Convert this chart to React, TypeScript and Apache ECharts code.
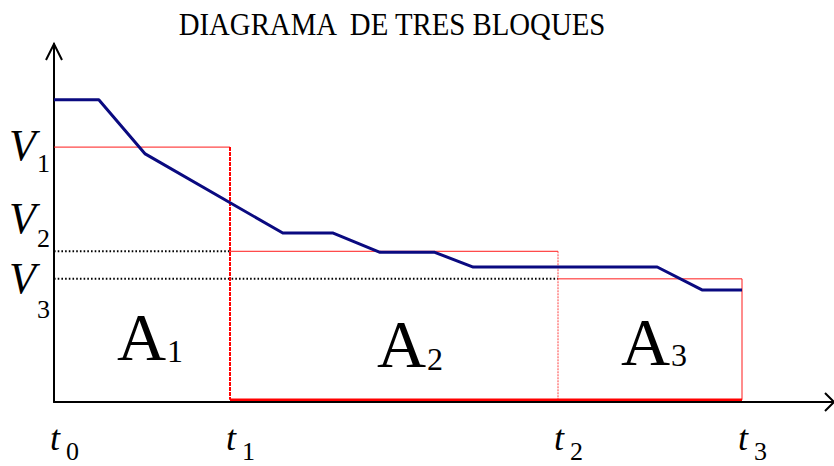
import React, { useEffect, useRef } from "react";
import * as echarts from "echarts";

// Time marks t0..t3 on the horizontal axis
const tickTimes = [0, 22, 63, 86];
const tickNames = ["0", "1", "2", "3"];
// Block heights V1..V3
const blockHeights = [71.2, 42.1, 34.4];
const blockNames = ["1", "2", "3"];
// Measured curve (time, value)
const curveTimes = [0, 5.6, 11.4, 28.6, 34.9, 40.75, 47.6, 52.4, 75.4, 81, 86];
const curveValues = [84.4, 84.4, 69.3, 47.2, 47.2, 41.8, 41.8, 37.7, 37.7, 31.3, 31.3];
// Floor line of the red blocks, just above the axis
const blockBase = 0.6;

const X_MAX = 97.5;
const Y_MAX = 100;
const SERIF = '"Liberation Serif", "Times New Roman", serif';
const RED = "#ff1a1a";

// vertical centre for a text whose alphabetic baseline must sit at `b`
const mid = (b: number, size: number) => b - 0.3375 * size;

export default function App() {
  const ref = useRef<HTMLDivElement>(null);

  useEffect(() => {
    const chart = echarts.init(ref.current!, null, { renderer: "svg" });

    const base = {
      type: "line" as const,
      symbol: "none",
      silent: true,
      animation: false,
    };

    const series: any[] = [];

    // block tops
    blockHeights.forEach((v, i) => {
      series.push({
        ...base,
        z: 2,
        data: [
          [tickTimes[i], v],
          [tickTimes[i + 1], v],
        ],
        lineStyle: { color: RED, width: 1 },
      });
    });

    // block right edges
    const edgeWidths = [2, 1, 1];
    const edgeTypes: any[] = [[4, 1], [2, 1], "solid"];
    const edgeColors = ["#ff0000", "#ff4040", RED];
    blockHeights.forEach((v, i) => {
      series.push({
        ...base,
        z: 2,
        data: [
          [tickTimes[i + 1], v],
          [tickTimes[i + 1], blockBase],
        ],
        lineStyle: { color: edgeColors[i], width: edgeWidths[i], type: edgeTypes[i] },
      });
    });

    // floor of blocks 2 and 3
    series.push({
      ...base,
      z: 2,
      data: [
        [tickTimes[1], blockBase],
        [tickTimes[3], blockBase],
      ],
      lineStyle: { color: "#ff0000", width: 2.5 },
    });

    // dotted guides for V2 and V3
    [1, 2].forEach((k) => {
      series.push({
        ...base,
        z: 1,
        data: [
          [tickTimes[0], blockHeights[k]],
          [tickTimes[k], blockHeights[k]],
        ],
        lineStyle: { color: "#000", width: 2, type: [1.6, 2.1] },
      });
    });

    // the curve
    series.push({
      ...base,
      z: 3,
      data: curveTimes.map((t, i) => [t, curveValues[i]]),
      lineStyle: { color: "#0a0a80", width: 3, join: "round" },
    });

    chart.setOption({
      animation: false,
      backgroundColor: "#ffffff",
      grid: { left: 54, right: 0, top: 44, bottom: 64 },
      xAxis: {
        type: "value",
        min: 0,
        max: X_MAX,
        axisLine: { show: true, onZero: false, lineStyle: { color: "#000", width: 2 } },
        axisTick: { show: false },
        axisLabel: { show: false },
        splitLine: { show: false },
      },
      yAxis: {
        type: "value",
        min: 0,
        max: Y_MAX,
        axisLine: { show: true, onZero: false, lineStyle: { color: "#000", width: 2 } },
        axisTick: { show: false },
        axisLabel: { show: false },
        splitLine: { show: false },
      },
      series,
    });

    const px = (x: number, y: number) =>
      chart.convertToPixel({ gridIndex: 0 }, [x, y]) as number[];

    const text = (
      x: number,
      baseline: number,
      str: string,
      size: number,
      italic = false,
      align = "left",
      extra: any = {}
    ) => ({
      type: "text",
      x,
      y: mid(baseline, size),
      silent: true,
      ...extra,
      style: {
        text: str,
        font: `${italic ? "italic " : ""}${size}px ${SERIF}`,
        lineHeight: Math.round(size * 0.75),
        fill: "#000",
        textAlign: align,
        textVerticalAlign: "middle",
      },
    });

    const graphic: any[] = [];

    // axis arrow heads
    const yTip = px(0, Y_MAX);
    const xTip = px(X_MAX, 0);
    graphic.push({
      type: "polyline",
      silent: true,
      shape: {
        points: [
          [yTip[0] - 8, yTip[1] + 16],
          [yTip[0], yTip[1]],
          [yTip[0] + 8, yTip[1] + 16],
        ],
      },
      style: { stroke: "#000", lineWidth: 2, fill: "none" },
    });
    graphic.push({
      type: "polyline",
      silent: true,
      shape: {
        points: [
          [xTip[0] - 9, xTip[1] - 9],
          [xTip[0], xTip[1]],
          [xTip[0] - 9, xTip[1] + 9],
        ],
      },
      style: { stroke: "#000", lineWidth: 2, fill: "none" },
    });

    // title
    graphic.push(
      text(392, 35, "DIAGRAMA  DE TRES BLOQUES", 32, false, "center", {
        scaleX: 0.9,
        originX: 0,
      })
    );

    // time labels
    tickTimes.forEach((t, i) => {
      const p = px(t, 0);
      graphic.push(text(p[0] - 4, 450, "t", 36, true));
      graphic.push(text(p[0] + 12, 460, tickNames[i], 26));
    });

    // height labels
    const vBase = [160, 233, 293];
    const vSub = [172, 247, 318];
    blockNames.forEach((n, i) => {
      graphic.push(text(9, vBase[i], "V", 44, true));
      graphic.push(text(37, vSub[i], n, 26));
    });

    // area labels inside each block
    const aInset = [63, 147, 63];
    const aBase = [360, 367, 365];
    const aSubBase = [362, 370, 366];
    blockNames.forEach((n, i) => {
      const l = px(tickTimes[i], 0)[0];
      const ax = l + aInset[i];
      graphic.push(text(ax, aBase[i], "A", 68));
      graphic.push(text(ax + 50, aSubBase[i], n, 32));
    });

    chart.setOption({ graphic });

    return () => chart.dispose();
  }, []);

  return (
    <div
      ref={ref}
      style={{ position: "fixed", left: 0, top: 0, width: 834, height: 466, background: "#fff" }}
    />
  );
}
